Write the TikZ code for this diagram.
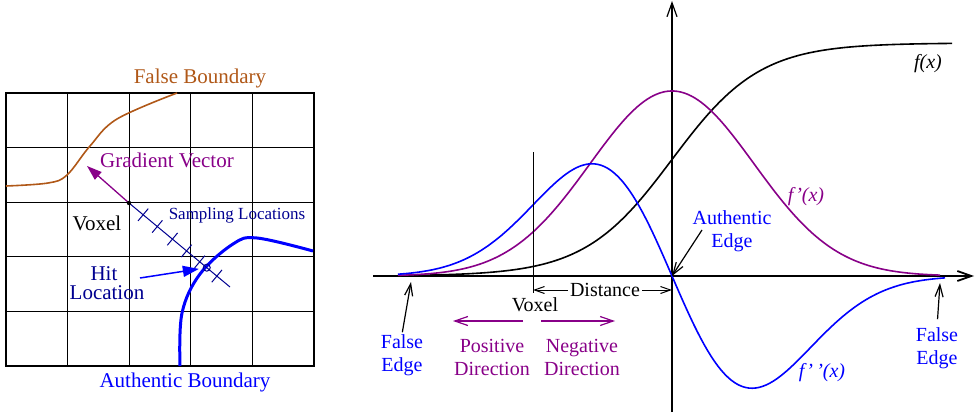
\documentclass[tikz,border=0pt]{standalone}
\usepackage{fontspec}
\setmainfont{Liberation Serif}
\usepackage{tikz}
\usetikzlibrary{arrows.meta, calc}
\definecolor{boundbrown}{RGB}{176,88,24}
\definecolor{gradpurple}{RGB}{136,0,136}
\definecolor{samplenavy}{RGB}{0,0,144}
\tikzset{txt/.style = {inner sep = 0pt, font = \fontsize{21}{24}\selectfont}}
\tikzset{rtxt/.style = {inner sep = 0pt, font = \fontsize{20}{23}\selectfont, align = center}}
\tikzset{smalltxt/.style = {inner sep = 0pt, font = \fontsize{17}{18}\selectfont}}
\tikzset{gridline/.style = {line width = 0.8pt}}
\tikzset{curve/.style = {line width = 1.6pt}}
\tikzset{barb/.style = {-{Straight Barb[length = 12pt, width = 8pt]}}}
\tikzset{solidtip/.style = {-{Triangle[length = 15pt, width = 10pt]}}}

\begin{document}
\begin{tikzpicture}[x = 1pt, y = -1pt]
	\useasboundingbox (0, 0) rectangle (975, 415);

	% voxel grid
	\foreach \i in {1, ..., 4} {
		\draw[gridline] (6 + 61.6*\i, 93) -- (6 + 61.6*\i, 366);
		\draw[gridline] (6, 93 + 54.6*\i) -- (314, 93 + 54.6*\i);
	}
	\draw[line width = 1.3pt] (6, 93) rectangle (314, 366);

	% boundaries
	\draw[boundbrown, line width = 1.6pt] plot[smooth, tension = 0.6] coordinates
		{(6, 186) (48, 183) (67, 175) (90, 146) (117, 119) (177, 93)};
	\draw[blue, line width = 3pt] plot[smooth, tension = 0.6] coordinates
		{(180, 366) (182, 313) (200, 274) (233, 244) (257, 238) (313, 251)};

	% gradient and sampling ray
	\coordinate (vox) at (129, 203);
	\coordinate (gradtip) at (87, 166);
	\coordinate (sampend) at (230, 287);
	\draw[gradpurple, line width = 1.3pt, solidtip] (vox) -- (gradtip);
	\draw[samplenavy, line width = 1pt] (vox) -- (sampend);
	\foreach \t in {0.14, 0.28, 0.43, 0.57, 0.70, 0.87} {
		\draw[samplenavy, line width = 1pt]
			($(vox)!\t!(sampend)!8pt!90:(sampend)$) -- ($(vox)!\t!(sampend)!8pt!-90:(sampend)$);
	}
	\fill (vox) circle (2.2pt);
	\node[draw = samplenavy, circle, minimum size = 7pt, inner sep = 0pt, line width = 1pt]
		(hit) at ($(vox)!0.77!(sampend)$) {};

	\node[txt, boundbrown] (falsebound) at (200, 78) {False Boundary};
	\node[txt, gradpurple] (gradvec) at (167, 160) {Gradient Vector};
	\node[txt] (voxtxt) at (97, 223) {Voxel};
	\node[smalltxt, samplenavy] (samploc) at (237, 215) {Sampling Locations};
	\node[txt, samplenavy] (hitlbl) at (104, 274) {Hit};
	\node[txt, samplenavy] (loclbl) at (107, 293) {Location};
	\node[txt, blue] (authbound) at (185, 382) {Authentic Boundary};

	\coordinate (hittail) at (140, 278);
	\draw[blue, line width = 1.5pt, -{Triangle[length = 16pt, width = 11pt]}, shorten > = 4pt] (hittail) -- (hit);

	% profile axes
	\coordinate (origin) at (672, 276);
	\coordinate (xstart) at (373, 276);
	\coordinate (xend) at (974, 276);
	\coordinate (ybot) at (672, 412);
	\coordinate (ytop) at (672, 1);
	\draw[line width = 1.8pt, -{Straight Barb[length = 14pt, width = 10pt]}] (xstart) -- (xend);
	\draw[line width = 1.2pt, -{Straight Barb[length = 14pt, width = 10pt]}] (ybot) -- (ytop);

	% f, f', f''
	\draw[curve] plot[domain = 398:952, samples = 160]
		(\x, {276 - 233/(1 + exp(-(\x - 672)/44))});
	\draw[curve, gradpurple] plot[domain = 398:940, samples = 160]
		(\x, {276 - 185*exp(-0.5*((\x - 672)/82)^2)});
	\draw[curve, blue] plot[domain = 398:945, samples = 160]
		(\x, {276 + 185*((\x - 672)/80)*exp(-0.5*((\x - 672)/80)^2)});

	\node[rtxt] (fx) at (928, 64) {\textit{f(x)}};
	\node[rtxt, gradpurple] (fpx) at (806, 197) {\textit{f'(x)}};
	\node[rtxt, blue] (fppx) at (822, 373) {\textit{f'\,'(x)}};

	% voxel marker and distance
	\coordinate (voxtop) at (533, 152);
	\coordinate (voxbot) at (533, 293);
	\draw[line width = 1pt] (voxtop) -- (voxbot);
	\node[rtxt] (voxlbl) at (535, 305) {Voxel};
	\node[rtxt] (dist) at (605, 290) {Distance};
	\draw[line width = 1pt, -{Straight Barb[length = 10pt, width = 7pt]}, shorten < = 2pt]
		(dist.west) -- (dist.west -| voxbot);
	\draw[line width = 1pt, -{Straight Barb[length = 10pt, width = 7pt]}, shorten < = 2pt]
		(dist.east) -- (dist.east -| origin);

	% directions
	\node[rtxt, gradpurple] (posdir) at (492, 357) {Positive\\Direction};
	\node[rtxt, gradpurple] (negdir) at (582, 357) {Negative\\Direction};
	\coordinate (posstart) at (523, 321);
	\coordinate (posend) at (453, 321);
	\coordinate (negstart) at (541, 321);
	\coordinate (negend) at (615, 321);
	\draw[gradpurple, line width = 1.2pt, -{Straight Barb[length = 13pt, width = 9pt]}] (posstart) -- (posend);
	\draw[gradpurple, line width = 1.2pt, -{Straight Barb[length = 13pt, width = 9pt]}] (negstart) -- (negend);

	% edges
	\node[rtxt, blue] (lfalse) at (402, 355) {False\\Edge};
	\node[rtxt, blue] (rfalse) at (937, 348) {False\\Edge};
	\node[rtxt, blue] (authedge) at (732, 231) {Authentic\\Edge};
	\coordinate (lfalsetip) at (411, 282);
	\coordinate (rfalsetip) at (940, 283);
	\coordinate (authtail) at (702, 230);
	\draw[line width = 1.2pt, barb, shorten < = 2pt] (lfalse.north) -- (lfalsetip);
	\draw[line width = 1.2pt, barb, shorten < = 8pt] (rfalse.north) -- (rfalsetip);
	\draw[line width = 1.2pt, barb] (authtail) -- (origin);
\end{tikzpicture}
\end{document}
